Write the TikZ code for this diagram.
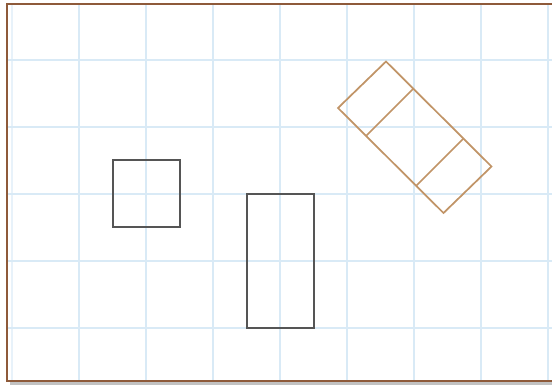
\documentclass[tikz,border=0pt]{standalone}
\definecolor{gridblue}{HTML}{D9EAF6}
\definecolor{framebrown}{HTML}{8E5A3A}
\definecolor{tan}{HTML}{C19467}
\definecolor{shapegrey}{HTML}{555555}
\definecolor{shadowgrey}{HTML}{9A9A9A}
\tikzset{
  gridline/.style={draw=gridblue, line width=0.8pt},
  framestyle/.style={draw=framebrown, line width=1.5pt},
  plainbox/.style={draw=shapegrey, line width=1pt, inner sep=0pt, fill=none},
  tanbox/.style={draw=tan, line width=1.3pt, line join=miter},
}
\begin{document}
\begin{tikzpicture}[x=0.75pt,y=-0.75pt]
\useasboundingbox (0,0) rectangle (552,385);
\fill[white] (0,0) rectangle (552,385);
% shadow
\fill[shadowgrey!60] (10,382) rectangle (552,385);
% grid
\begin{scope}
\clip (7,4) rectangle (552,381);
\draw[gridline, draw=gridblue!60] (12,0) -- (12,385);
\foreach \x in {79,146,213,280,347,414,481,548} \draw[gridline] (\x,0) -- (\x,385);
\foreach \y in {60,127,194,261,328} \draw[gridline] (0,\y) -- (552,\y);
\end{scope}
% frame
\coordinate (fTR) at (552,4);
\coordinate (fTL) at (7,4);
\coordinate (fBL) at (7,381);
\coordinate (fBR) at (552,381);
\draw[framestyle] (fTR) -- (fTL) -- (fBL) -- (fBR);
% square and tall rectangle
\node[plainbox, minimum width=50.25pt, minimum height=50.25pt] (sq) at (146.5,193.5) {};
\node[plainbox, minimum width=50.25pt, minimum height=100.5pt] (rect) at (280.5,261) {};
% rotated rectangle
\coordinate (rT) at (386,61.5);
\coordinate (rL) at (338,108);
\coordinate (rB) at (443.5,213);
\coordinate (rR) at (491.5,166.5);
\coordinate (d1a) at (413,89);
\coordinate (d1b) at (366,136);
\coordinate (d2a) at (463,139);
\coordinate (d2b) at (416,186);
\draw[tanbox] (rT) -- (rR) -- (rB) -- (rL) -- cycle;
\draw[tanbox] (d1a) -- (d1b);
\draw[tanbox] (d2a) -- (d2b);
\end{tikzpicture}
\end{document}
